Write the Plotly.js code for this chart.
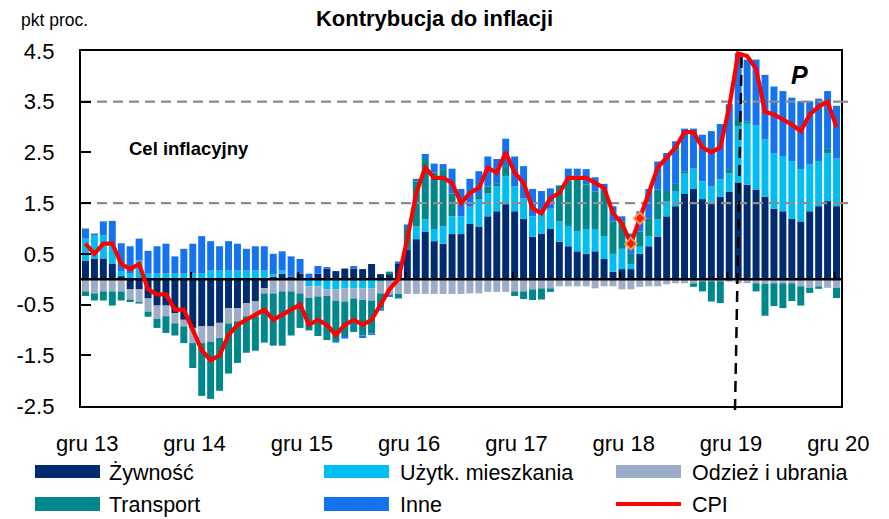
<!DOCTYPE html>
<html>
<head>
<meta charset="utf-8">
<script src="https://cdn.plot.ly/plotly-3.0.1.min.js"></script>
<style>html,body{margin:0;padding:0;background:#fff;}#chart{width:889px;height:519px;}</style>
</head>
<body>
<div id="chart"></div>
<script>
// Monthly contributions to CPI (pp), Dec 2013 .. Dec 2020
const food = [0.36,0.41,0.41,0.31,0.06,-0.20,-0.20,-0.38,-0.52,-0.52,-0.67,-0.80,-0.96,
-0.93,-0.93,-0.86,-0.57,-0.57,-0.47,-0.43,-0.18,0.05,0.11,0.05,0.11,
0.00,0.11,0.21,0.16,0.21,0.21,0.20,0.30,0.10,0.10,0.30,0.58,
0.79,0.94,0.75,0.70,0.89,0.89,1.09,1.04,1.24,1.34,1.48,1.34,
1.19,0.84,0.90,0.99,0.74,0.65,0.55,0.50,0.55,0.40,0.15,0.20,
0.20,0.50,0.65,0.84,1.24,1.44,1.68,1.78,1.58,1.53,1.63,1.73,
1.91,1.86,1.77,1.63,1.39,1.34,1.19,1.14,1.34,1.44,1.54,1.44];
const housing = [0.44,0.45,0.45,0.35,0.10,0.11,0.37,0.11,0.11,0.11,0.11,0.11,0.11,
0.11,0.17,0.17,0.17,0.17,0.17,0.17,0.17,0.05,0.06,0.00,0.00,
-0.14,-0.14,-0.20,-0.20,-0.18,-0.18,-0.18,-0.18,-0.05,-0.03,0.00,0.00,
0.25,0.24,0.24,0.34,0.35,0.35,0.34,0.53,0.45,0.49,0.55,0.49,
0.40,0.40,0.44,0.40,0.40,0.40,0.40,0.49,0.44,0.45,0.35,0.40,
0.10,0.14,0.20,0.34,0.30,0.30,0.40,0.40,0.35,0.30,0.34,0.36,
1.10,1.22,1.26,1.13,1.09,1.09,1.14,1.03,0.92,0.89,0.94,0.94];
const clothing = [-0.24,-0.28,-0.24,-0.24,-0.24,-0.20,-0.25,-0.26,-0.26,-0.21,-0.20,-0.13,-0.30,
-0.33,-0.30,-0.30,-0.30,-0.26,-0.26,-0.30,-0.10,-0.28,-0.24,-0.24,-0.28,
-0.23,-0.20,-0.13,-0.23,-0.26,-0.20,-0.23,-0.24,-0.23,-0.27,-0.29,-0.29,
-0.29,-0.29,-0.29,-0.29,-0.29,-0.29,-0.28,-0.28,-0.25,-0.25,-0.25,-0.24,
-0.24,-0.20,-0.18,-0.18,-0.14,-0.14,-0.14,-0.14,-0.18,-0.14,-0.14,-0.20,
-0.20,-0.15,-0.14,-0.14,-0.10,-0.08,-0.08,-0.08,-0.04,-0.04,-0.04,-0.05,
-0.08,-0.08,-0.08,-0.09,-0.08,-0.08,-0.08,-0.14,-0.17,-0.14,-0.17,-0.17];
const transport = [-0.09,-0.14,-0.18,-0.28,-0.18,-0.05,-0.03,-0.10,-0.18,-0.33,-0.24,-0.33,-0.49,
-1.04,-1.13,-1.04,-0.99,-0.82,-0.72,-0.68,-0.97,-1.03,-1.07,-0.87,-0.68,
-0.64,-0.78,-0.87,-0.79,-0.68,-0.66,-0.70,-0.65,-0.30,0.05,-0.09,0.45,
0.89,1.19,1.11,1.13,0.45,0.00,0.00,0.07,0.14,0.05,0.20,-0.09,
-0.15,-0.21,-0.22,-0.07,0.71,0.89,1.09,0.88,0.74,0.89,0.64,0.54,
0.20,0.30,0.34,0.59,0.20,0.14,0.05,-0.07,-0.20,-0.40,-0.43,0.08,
0.15,0.03,-0.16,-0.63,-0.45,-0.49,-0.35,-0.38,-0.10,-0.05,0.09,-0.20];
const other = [0.20,0.04,0.28,0.49,0.55,0.54,0.43,0.45,0.54,0.59,0.34,0.49,0.59,
0.74,0.58,0.48,0.58,0.53,0.43,0.48,0.48,0.40,0.38,0.40,0.29,
0.11,0.15,0.03,-0.03,-0.05,0.05,-0.05,-0.03,-0.04,-0.05,0.05,0.05,
0.05,0.10,0.18,0.10,0.49,0.54,0.55,0.49,0.59,0.49,0.54,0.59,
0.64,0.54,0.40,0.40,0.00,0.24,0.14,0.30,0.28,0.14,0.30,0.10,
0.40,0.40,0.59,0.55,0.75,0.84,0.84,0.79,0.92,1.09,1.09,1.28,
1.30,1.22,1.30,1.27,1.32,1.28,1.25,1.34,1.25,1.23,1.14,1.04];
const cpi = [0.7,
0.5,0.7,0.7,0.3,0.2,0.3,-0.2,-0.3,-0.3,-0.6,-0.6,-1.0,
-1.4,-1.6,-1.5,-1.1,-0.9,-0.8,-0.7,-0.6,-0.8,-0.7,-0.6,-0.5,
-0.9,-0.8,-0.9,-1.1,-0.9,-0.8,-0.9,-0.8,-0.5,-0.2,0.0,0.8,
1.7,2.2,2.0,2.0,1.9,1.5,1.7,1.8,2.2,2.1,2.5,2.1,
1.9,1.4,1.3,1.6,1.7,2.0,2.0,2.0,1.9,1.8,1.3,1.1,
0.7,1.2,1.7,2.2,2.4,2.6,2.9,2.9,2.6,2.5,2.6,3.4,
4.45,4.4,4.15,3.3,3.25,3.15,3.05,2.92,3.25,3.4,3.5,3.0];
const markedMonths = [61, 62];            // highlighted CPI points (Jan, Feb 2019)
const tickLabels = ['gru 13','gru 14','gru 15','gru 16','gru 17','gru 18','gru 19','gru 20'];
const yTicks = [-2.5,-1.5,-0.5,0.5,1.5,2.5,3.5,4.5];
const targetBand = [1.5, 3.5];
const seriesNames = ['Żywność','Użytk. mieszkania','Odzież i ubrania','Transport','Inne','CPI'];

const x = food.map((_, i) => i);
const FONT = 'Liberation Sans, Arial, Helvetica, sans-serif';
const colors = ['#002B6E', '#00BDF2', '#9DACC8', '#00878B', '#1573F0'];
const comps = [food, housing, clothing, transport, other];

const traces = comps.map((vals, k) => ({
  type: 'bar', x: x, y: vals, name: seriesNames[k],
  marker: {color: colors[k], line: {width: 0}},
  showlegend: false, hoverinfo: 'skip'
}));
// target band dashed lines + zero line (drawn under the CPI line)
targetBand.forEach(v => traces.push({
  type: 'scatter', mode: 'lines', x: [-0.5, x.length - 0.5], y: [v, v],
  line: {color: '#8C8C8C', width: 2.2, dash: '10px,6px'}, showlegend: false, hoverinfo: 'skip'
}));
traces.push({
  type: 'scatter', mode: 'lines', x: [-0.5, x.length - 0.5], y: [0, 0],
  line: {color: '#000', width: 2.6}, showlegend: false, hoverinfo: 'skip'
});
traces.push({
  type: 'scatter', mode: 'lines', x: x, y: cpi, name: seriesNames[5],
  line: {color: '#FF0000', width: 4.2}, showlegend: false, hoverinfo: 'skip'
});
traces.push({
  type: 'scatter', mode: 'markers', x: markedMonths, y: markedMonths.map(i => cpi[i]),
  marker: {symbol: 'diamond', size: 9, color: '#FF1A00', line: {color: '#EE9A50', width: 2}},
  showlegend: false, hoverinfo: 'skip', cliponaxis: false
});

// geometry helpers (paper coordinates from pixel positions)
const L = 81, R = 48, T = 51, B = 113, W = 889, H = 519;
const pw = W - L - R, ph = H - T - B;
const px = p => (p - L) / pw;
const py = p => (H - B - p) / ph;

const shapes = [];
// small ticks on the zero line
tickLabels.forEach((_, k) => { if (k > 0) shapes.push({
  type: 'line', xref: 'x', yref: 'y', x0: 12 * k - 0.2, x1: 12 * k - 0.2, y0: 0, y1: 0.14,
  line: {color: '#000', width: 2}, layer: 'above'
}); });
// target band lines overshooting the right frame slightly
targetBand.forEach(v => shapes.push({
  type: 'line', xref: 'paper', yref: 'paper', x0: 1.0, x1: px(848),
  y0: (v + 2.5) / 7, y1: (v + 2.5) / 7, line: {color: '#8C8C8C', width: 2.2}, layer: 'above'
}));
// projection divider
shapes.push({
  type: 'line', xref: 'paper', yref: 'paper', x0: px(735), y0: py(410), x1: px(741.7), y1: 1,
  line: {color: '#000', width: 2.5, dash: '11px,7px'}, layer: 'above'
});

// manual legend
const legCols = [[35, 100, 107], [324, 389, 398], [616, 681, 690]];
const legRows = [[465, 478], [497, 511]];
const legOrder = [0, 1, 2, 3, 4, 5];
const annotations = [];
legOrder.forEach((s, idx) => {
  const c = legCols[idx % 3], r = legRows[Math.floor(idx / 3)];
  const yc = (r[0] + r[1]) / 2;
  if (s < 5) {
    shapes.push({type: 'rect', xref: 'paper', yref: 'paper', x0: px(c[0]), x1: px(c[1]),
      y0: py(r[1]), y1: py(r[0]), fillcolor: colors[s], line: {width: 0}});
  } else {
    shapes.push({type: 'line', xref: 'paper', yref: 'paper', x0: px(c[0]), x1: px(c[1]),
      y0: py(yc), y1: py(yc), line: {color: '#FF0000', width: 4.2}});
  }
  annotations.push({xref: 'paper', yref: 'paper', x: px(c[2]), y: py(yc + 1), xanchor: 'left', yanchor: 'middle',
    text: seriesNames[s], showarrow: false, font: {family: FONT, size: 21.5, color: '#000'}});
});
annotations.push({xref: 'paper', yref: 'paper', x: px(19), y: py(20), xanchor: 'left', yanchor: 'middle',
  text: 'pkt proc.', showarrow: false, font: {family: FONT, size: 17.5, color: '#000'}});
annotations.push({xref: 'paper', yref: 'paper', x: px(127), y: py(148), xanchor: 'left', yanchor: 'middle',
  text: 'Cel inflacyjny', showarrow: false, font: {family: FONT, size: 18.5, color: '#000', weight: 'bold'}});
annotations.push({xref: 'paper', yref: 'paper', x: px(799.5), y: py(74.5), xanchor: 'center', yanchor: 'middle',
  text: '<b><i>P</i></b>', showarrow: false, font: {family: FONT, size: 25, color: '#000'}});

const layout = {
  width: W, height: H,
  margin: {l: L, r: R, t: T, b: B, pad: 0},
  paper_bgcolor: '#fff', plot_bgcolor: '#fff',
  barmode: 'relative', bargap: 0.22,
  showlegend: false,
  font: {family: FONT, color: '#000'},
  title: {text: 'Kontrybucja do inflacji', x: 434.5 / W, xanchor: 'center', y: 1 - 18 / H, yanchor: 'middle',
    font: {family: FONT, size: 22, weight: 'bold', color: '#000'}},
  xaxis: {
    range: [-0.5, x.length - 0.5], showgrid: false, zeroline: false,
    showline: true, mirror: true, linecolor: '#000', linewidth: 2.2,
    tickmode: 'array', tickvals: tickLabels.map((_, k) => 12 * k + 0.2), ticktext: tickLabels,
    ticks: '', tickfont: {family: FONT, size: 22, color: '#000'}, ticklabelstandoff: 16
  },
  yaxis: {
    range: [-2.5, 4.5], showgrid: false, zeroline: false,
    showline: true, mirror: true, linecolor: '#000', linewidth: 2.2,
    tickmode: 'array', tickvals: yTicks, ticktext: yTicks.map(v => v.toFixed(1)),
    ticks: 'inside', ticklen: 10, tickwidth: 2, tickcolor: '#000',
    tickfont: {family: FONT, size: 22, color: '#000'}, ticklabelstandoff: 20
  },
  shapes: shapes,
  annotations: annotations
};

Plotly.newPlot('chart', traces, layout, {staticPlot: true, displayModeBar: false});
</script>
</body>
</html>
